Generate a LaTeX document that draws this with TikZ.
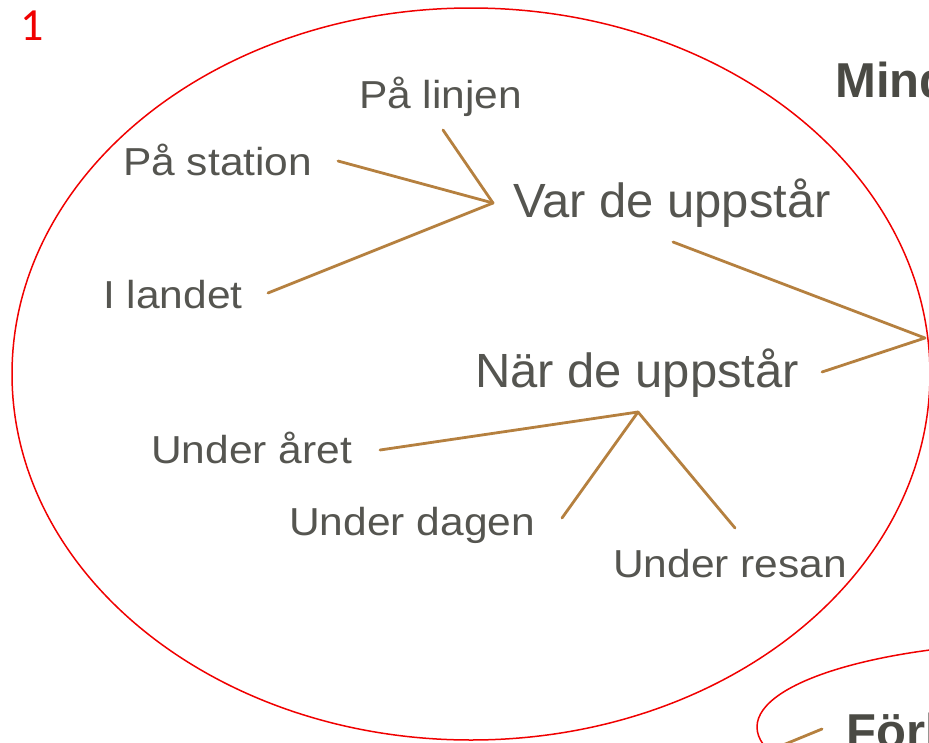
\documentclass[tikz,border=0pt]{standalone}
\usepackage{fontspec}
\setmainfont{Liberation Sans}
\newfontfamily\numfont{Carlito}
\definecolor{txtgray}{HTML}{555550}
\definecolor{boldgray}{HTML}{4A4A44}
\definecolor{tan}{HTML}{B5803F}
\definecolor{ringred}{HTML}{F00000}
\tikzset{
  big/.style={anchor=base west, inner sep=0pt, text=txtgray, font=\fontsize{48}{56}\selectfont, xscale=1.02},
  small/.style={anchor=base west, inner sep=0pt, text=txtgray, font=\fontsize{39}{46}\selectfont, xscale=1.09},
  head/.style={anchor=base west, inner sep=0pt, text=boldgray, font=\bfseries\fontsize{49}{56}\selectfont},
  branch/.style={draw=tan, line width=2.8pt, line cap=round, line join=round},
  ring/.style={draw=ringred, line width=1.5pt}
}
\begin{document}
\begin{tikzpicture}[x=1pt,y=-1pt]
\useasboundingbox (0,0) rectangle (929,742);
\clip (0,0) rectangle (929,742);
% red rings
\draw[ring] (471,374) ellipse [x radius=459, y radius=366];
\draw[ring] (1057,727) ellipse [x radius=300, y radius=85];
% label number
\node[anchor=base west, inner sep=0pt, text=ringred, font=\numfont\fontsize{46}{52}\selectfont] (num) at (20,40) {1};
% texts
\node[head] (mind) at (835,97) {Mind};
\node[head] (forl) at (846,748) {Förl};
\node[small] (linjen) at (359,108) {På linjen};
\node[small] (station) at (123,175) {På station};
\node[big] (var) at (513,217) {Var de uppstår};
\node[small] (landet) at (103,308) {I landet};
\node[big] (nar) at (475,387) {När de uppstår};
\node[small] (aret) at (151,463) {Under året};
\node[small] (dagen) at (289,535) {Under dagen};
\node[small] (resan) at (613,577) {Under resan};
% connector points
\coordinate (hubvar) at (493,203);
\coordinate (hubnar) at (638,412);
\coordinate (hubmain) at (925,338);
\coordinate (cLinjen) at (443,130);
\coordinate (cStation) at (338,161);
\coordinate (cLandet) at (268,293);
\coordinate (cVar) at (673,242);
\coordinate (cNar) at (822,372);
\coordinate (cAret) at (380,450);
\coordinate (cDagen) at (562,518);
\coordinate (cResan) at (735,528);
\coordinate (cForlA) at (783,745);
\coordinate (cForlB) at (822,729);
% connectors
\draw[branch] (cLinjen) -- (hubvar);
\draw[branch] (cStation) -- (hubvar);
\draw[branch] (cLandet) -- (hubvar);
\draw[branch] (cVar) -- (hubmain) -- (cNar);
\draw[branch] (cAret) -- (hubnar);
\draw[branch] (cDagen) -- (hubnar);
\draw[branch] (cResan) -- (hubnar);
\draw[branch] (cForlA) -- (cForlB);
\end{tikzpicture}
\end{document}
